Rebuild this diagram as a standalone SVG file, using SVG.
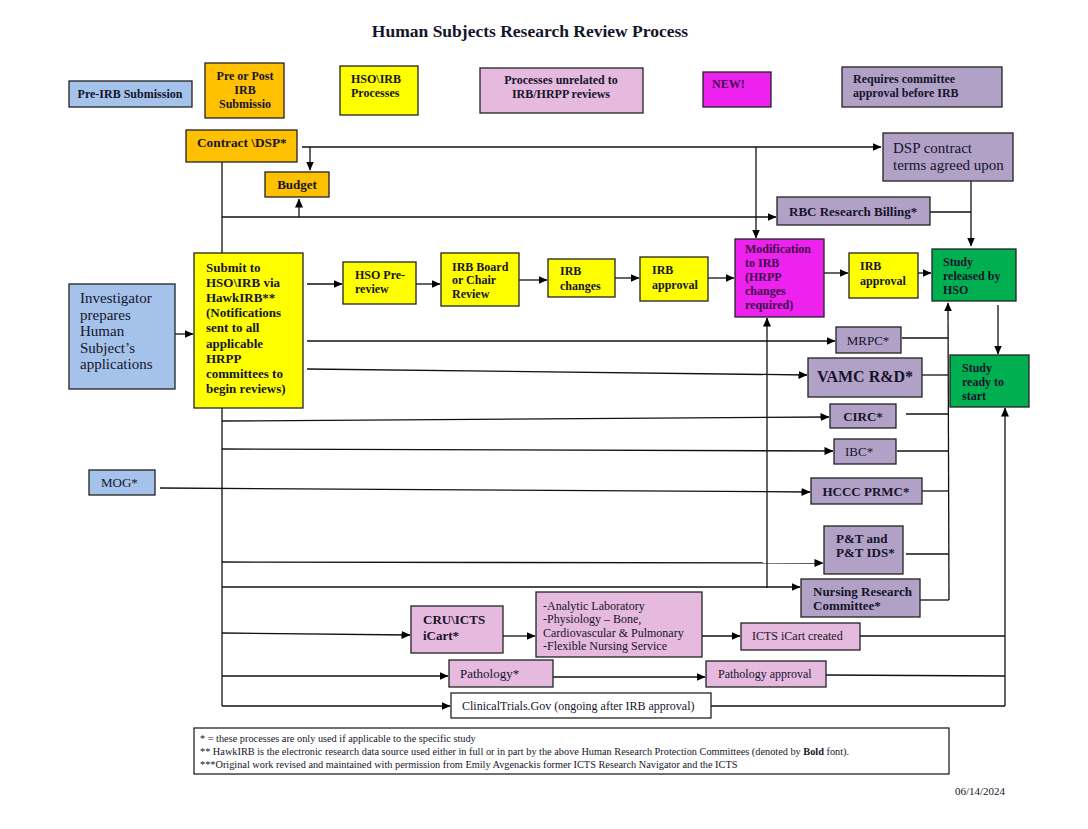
<svg xmlns="http://www.w3.org/2000/svg" width="1088" height="829" viewBox="0 0 1088 829">
<style>
text{font-family:"Liberation Serif","Times New Roman",serif;fill:#15152a}
.b{font-weight:bold}
.s12{font-size:12px}
.s13{font-size:13px}
.box{stroke:#222;stroke-width:1.3}
.blue{fill:#A4C2EA}.orange{fill:#FFC000}.yellow{fill:#FFFF00}.pink{fill:#E6B9DE}.mag{fill:#EE22EE}.purple{fill:#B2A1C7}.green{fill:#00B050}.white{fill:#fff}
.c line,.c path{stroke:#111;stroke-width:1.3;fill:none}
.m{fill:#3C0A4A}
.fn{font-size:10.3px}
</style>
<defs>
<marker id="ah" markerUnits="userSpaceOnUse" markerWidth="9" markerHeight="8" refX="8.5" refY="4" orient="auto"><path d="M0,0 L9,4 L0,8 z" fill="#000"/></marker>
</defs>
<rect width="1088" height="829" fill="#fff"/>
<text x="530" y="37" text-anchor="middle" class="b" font-size="17.5">Human Subjects Research Review Process</text>

<g id="legend">
<g id="lg-pre"><rect class="box blue" x="69" y="81" width="123" height="26"/><text x="130" y="98" text-anchor="middle" class="b s12">Pre-IRB Submission</text></g>
<g id="lg-prepost"><rect class="box orange" x="205" y="63" width="79" height="55"/><text x="245" y="80" text-anchor="middle" class="b s12">Pre or Post</text><text x="245" y="94" text-anchor="middle" class="b s12">IRB</text><text x="245" y="108" text-anchor="middle" class="b s12">Submissio</text></g>
<g id="lg-hso"><rect class="box yellow" x="340" y="66" width="78" height="49"/><text x="351" y="83" class="b s12">HSO\IRB</text><text x="351" y="97" class="b s12">Processes</text></g>
<g id="lg-unrel"><rect class="box pink" x="480" y="68" width="163" height="45"/><text x="561" y="84" text-anchor="middle" class="b s12">Processes unrelated to</text><text x="561" y="98" text-anchor="middle" class="b s12">IRB/HRPP reviews</text></g>
<g id="lg-new"><rect class="box mag" x="703" y="72" width="68" height="35"/><text x="712" y="88" class="b s12 m">NEW!</text></g>
<g id="lg-req"><rect class="box purple" x="842" y="67" width="160" height="40"/><text x="853" y="83" class="b s12">Requires committee</text><text x="853" y="97" class="b s12">approval before IRB</text></g>
</g>

<g id="connectors" class="c">
<line x1="302" y1="147" x2="881" y2="147" marker-end="url(#ah)"/>
<line x1="310" y1="147" x2="310" y2="170" marker-end="url(#ah)"/>
<line x1="756" y1="147" x2="756" y2="238" marker-end="url(#ah)"/>
<line x1="222" y1="162" x2="222" y2="706"/>
<line x1="222" y1="217" x2="776" y2="217" marker-end="url(#ah)"/>
<line x1="299" y1="217" x2="299" y2="199" marker-end="url(#ah)"/>
<line x1="930" y1="212" x2="971" y2="212"/>
<line x1="971" y1="181" x2="971" y2="246" marker-end="url(#ah)"/>
<line x1="175" y1="334" x2="193" y2="334" marker-end="url(#ah)"/>
<line x1="307" y1="284" x2="342" y2="284" marker-end="url(#ah)"/>
<line x1="416" y1="284" x2="440" y2="284" marker-end="url(#ah)"/>
<line x1="519" y1="280" x2="547" y2="280" marker-end="url(#ah)"/>
<line x1="615" y1="278" x2="639" y2="278" marker-end="url(#ah)"/>
<line x1="708" y1="278" x2="734" y2="278" marker-end="url(#ah)"/>
<line x1="824" y1="273" x2="848" y2="273" marker-end="url(#ah)"/>
<line x1="918" y1="273" x2="931" y2="273" marker-end="url(#ah)"/>
<line x1="998" y1="305" x2="998" y2="354" marker-end="url(#ah)"/>
<line x1="307" y1="341" x2="835" y2="341" marker-end="url(#ah)"/>
<line x1="307" y1="369" x2="807" y2="375" marker-end="url(#ah)"/>
<line x1="222" y1="421" x2="829" y2="417" marker-end="url(#ah)"/>
<line x1="222" y1="449" x2="833" y2="451" marker-end="url(#ah)"/>
<line x1="160" y1="488" x2="810" y2="492" marker-end="url(#ah)"/>
<line x1="222" y1="562" x2="823" y2="563" marker-end="url(#ah)"/>
<line x1="222" y1="587" x2="800" y2="587" marker-end="url(#ah)"/>
<line x1="222" y1="633" x2="410" y2="635" marker-end="url(#ah)"/>
<line x1="503" y1="636" x2="535" y2="636" marker-end="url(#ah)"/>
<line x1="702" y1="636" x2="740" y2="636" marker-end="url(#ah)"/>
<line x1="860" y1="636" x2="1005" y2="636"/>
<line x1="222" y1="676" x2="448" y2="676" marker-end="url(#ah)"/>
<line x1="553" y1="677" x2="705" y2="677" marker-end="url(#ah)"/>
<line x1="826" y1="675" x2="1005" y2="676"/>
<line x1="222" y1="706" x2="450" y2="706" marker-end="url(#ah)"/>
<line x1="711" y1="706" x2="1005" y2="706"/>
<line x1="1005" y1="706" x2="1005" y2="408" marker-end="url(#ah)"/>
<line x1="949" y1="600" x2="948" y2="303" marker-end="url(#ah)"/>
<line x1="902" y1="338" x2="948" y2="338"/>
<line x1="922" y1="375" x2="948" y2="375"/>
<line x1="906" y1="414" x2="948" y2="414"/>
<line x1="897" y1="451" x2="948" y2="451"/>
<line x1="922" y1="491" x2="948" y2="491"/>
<line x1="906" y1="554" x2="949" y2="554"/>
<line x1="920" y1="600" x2="949" y2="600"/>
<line x1="767" y1="588" x2="767" y2="318" marker-end="url(#ah)"/>
</g>

<g id="contract"><rect class="box orange" x="186" y="130" width="111" height="32"/><text x="197" y="147" class="b" font-size="13.3">Contract \DSP*</text></g>
<g id="budget"><rect class="box orange" x="265" y="172" width="64" height="25"/><text x="297" y="189" text-anchor="middle" class="b s13">Budget</text></g>
<g id="dsp"><rect class="box purple" x="883" y="133" width="130" height="48"/><text x="893" y="153" font-size="15">DSP contract</text><text x="893" y="170" font-size="15">terms agreed upon</text></g>
<g id="rbc"><rect class="box purple" x="777" y="197" width="153" height="28"/><text x="789" y="216" class="b s13">RBC Research Billing*</text></g>

<g id="investigator"><rect class="box blue" x="69" y="284" width="106" height="105"/>
<text x="80" y="303" font-size="15">Investigator</text><text x="80" y="320" font-size="15">prepares</text><text x="80" y="336" font-size="15">Human</text><text x="80" y="353" font-size="15">Subject’s</text><text x="80" y="369" font-size="15">applications</text></g>

<g id="submit"><rect class="box yellow" x="194" y="253" width="109" height="155"/>
<text x="206" y="272" class="b s13">Submit to</text><text x="206" y="287" class="b s13">HSO\IRB via</text><text x="206" y="302" class="b s13">HawkIRB**</text><text x="206" y="317" class="b s13">(Notifications</text><text x="206" y="332" class="b s13">sent to all</text><text x="206" y="348" class="b s13">applicable</text><text x="206" y="363" class="b s13">HRPP</text><text x="206" y="378" class="b s13">committees to</text><text x="206" y="393" class="b s13">begin reviews)</text></g>

<g id="hso-pre"><rect class="box yellow" x="343" y="262" width="73" height="42"/><text x="355" y="279" class="b s12">HSO Pre-</text><text x="355" y="293" class="b s12">review</text></g>
<g id="irb-board"><rect class="box yellow" x="441" y="253" width="78" height="53"/><text x="452" y="271" class="b s12">IRB Board</text><text x="452" y="284" class="b s12">or Chair</text><text x="452" y="298" class="b s12">Review</text></g>
<g id="irb-changes"><rect class="box yellow" x="548" y="259" width="67" height="38"/><text x="560" y="275" class="b s12">IRB</text><text x="560" y="290" class="b s12">changes</text></g>
<g id="irb-approval1"><rect class="box yellow" x="640" y="257" width="68" height="44"/><text x="652" y="274" class="b s12">IRB</text><text x="652" y="289" class="b s12">approval</text></g>
<g id="modification"><rect class="box mag" x="735" y="239" width="89" height="78"/>
<text x="745" y="253" class="b s12 m">Modification</text><text x="745" y="267" class="b s12 m">to IRB</text><text x="745" y="281" class="b s12 m">(HRPP</text><text x="745" y="295" class="b s12 m">changes</text><text x="745" y="309" class="b s12 m">required)</text></g>
<g id="irb-approval2"><rect class="box yellow" x="849" y="253" width="69" height="45"/><text x="860" y="270" class="b s12">IRB</text><text x="860" y="285" class="b s12">approval</text></g>
<g id="released"><rect class="box green" x="932" y="249" width="84" height="52"/><text x="943" y="266" class="b s12">Study</text><text x="943" y="280" class="b s12">released by</text><text x="943" y="294" class="b s12">HSO</text></g>
<g id="ready"><rect class="box green" x="950" y="355" width="79" height="52"/><text x="962" y="372" class="b s12">Study</text><text x="962" y="386" class="b s12">ready to</text><text x="962" y="400" class="b s12">start</text></g>

<g id="mrpc"><rect class="box purple" x="836" y="327" width="65" height="26"/><text x="868" y="345" text-anchor="middle" class="s13">MRPC*</text></g>
<g id="vamc"><rect class="box purple" x="808" y="358" width="114" height="39"/><text x="865" y="382" text-anchor="middle" class="b" font-size="16">VAMC R&amp;D*</text></g>
<g id="circ"><rect class="box purple" x="830" y="404" width="66" height="24"/><text x="863" y="421" text-anchor="middle" class="b s13">CIRC*</text></g>
<g id="ibc"><rect class="box purple" x="834" y="439" width="62" height="25"/><text x="845" y="456" class="s13">IBC*</text></g>
<g id="mog"><rect class="box blue" x="89" y="470" width="66" height="25"/><text x="101" y="487" class="s13">MOG*</text></g>
<g id="hccc"><rect class="box purple" x="811" y="478" width="111" height="26"/><text x="866" y="496" text-anchor="middle" class="b s13">HCCC PRMC*</text></g>
<g id="pt"><rect class="box purple" x="824" y="526" width="79" height="48"/><text x="836" y="543" class="b s13">P&amp;T and</text><text x="836" y="557" class="b s13">P&amp;T IDS*</text></g>
<g id="nursing"><rect class="box purple" x="801" y="579" width="119" height="38"/><text x="813" y="596" class="b s13">Nursing Research</text><text x="813" y="610" class="b s13">Committee*</text></g>

<g id="cru"><rect class="box pink" x="411" y="606" width="92" height="47"/><text x="423" y="624" class="b s13">CRU\ICTS</text><text x="423" y="640" class="b s13">iCart*</text></g>
<g id="analytic"><rect class="box pink" x="536" y="592" width="166" height="65"/>
<text x="543" y="610" class="s12">-Analytic Laboratory</text><text x="543" y="623" class="s12">-Physiology – Bone,</text><text x="543" y="637" class="s12">Cardiovascular &amp; Pulmonary</text><text x="543" y="650" class="s12">-Flexible Nursing Service</text></g>
<g id="icts"><rect class="box pink" x="741" y="623" width="119" height="27"/><text x="752" y="640" class="s12">ICTS iCart created</text></g>
<g id="pathology"><rect class="box pink" x="449" y="660" width="104" height="27"/><text x="460" y="678" class="s13">Pathology*</text></g>
<g id="path-approval"><rect class="box pink" x="706" y="661" width="120" height="26"/><text x="718" y="678" class="s12">Pathology approval</text></g>
<g id="ct"><rect class="box white" x="451" y="693" width="260" height="25"/><text x="462" y="710" class="s12">ClinicalTrials.Gov (ongoing after IRB approval)</text></g>

<g id="notes"><rect x="194" y="728" width="755" height="46" fill="#fff" stroke="#111" stroke-width="1.2"/>
<text x="200" y="742" class="fn">* = these processes are only used if applicable to the specific study</text>
<text x="200" y="755" class="fn">** HawkIRB is the electronic research data source used either in full or in part by the above Human Research Protection Committees (denoted by <tspan font-weight="bold">Bold</tspan> font).</text>
<text x="200" y="768" class="fn">***Original work revised and maintained with permission from Emily Avgenackis former ICTS Research Navigator and the ICTS</text>
</g>
<text x="1005" y="795" text-anchor="end" font-size="11">06/14/2024</text>
</svg>
